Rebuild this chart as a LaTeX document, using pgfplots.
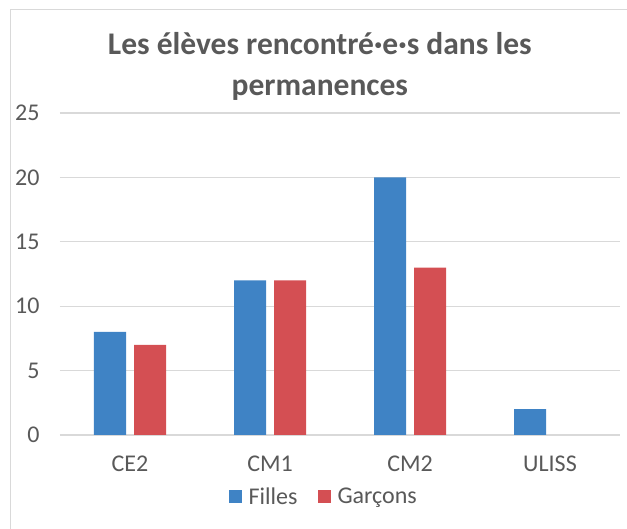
\documentclass[border=0pt]{standalone}
\usepackage{fontspec}
\setmainfont{Carlito}
\usepackage{pgfplots}
\pgfplotsset{compat=1.18}
\definecolor{bblue}{RGB}{63,131,197}
\definecolor{bred}{RGB}{212,79,83}
\definecolor{txt}{RGB}{89,89,89}
\definecolor{gridgray}{RGB}{217,217,217}
\begin{document}
\begin{tikzpicture}[x=1pt,y=1pt]
\useasboundingbox (0,0) rectangle (627,529);
\draw[gridgray, line width=1pt] (10,-5) rectangle (640,519);
\begin{axis}[
  at={(60pt,94pt)}, anchor=south west,
  scale only axis, width=560pt, height=322pt,
  ybar=8pt, bar width=32pt,
  xmin=-0.5, xmax=3.5, ymin=0, ymax=25,
  xtick={0,1,2,3}, xticklabels={CE2,CM1,CM2,ULISS},
  ytick={0,5,10,15,20,25},
  axis line style={draw=none},
  axis x line*=bottom,
  x axis line style={draw=gridgray, line width=1.2pt},
  xmajorgrids=false, ymajorgrids=true,
  y grid style={gridgray, line width=1.2pt},
  major tick length=0pt,
  xtick style={draw=none}, ytick style={draw=none},
  tick label style={font=\fontsize{24}{27}\selectfont, text=txt},
  y tick label style={anchor=east, xshift=-17pt},
  x tick label style={yshift=-17pt},
  /pgf/number format/assume math mode=true,
  legend style={draw=none, at={(0.471,-0.191)}, anchor=center, legend columns=2,
    font=\fontsize{24}{27}\selectfont, text=txt, inner sep=0pt,
    /tikz/every even column/.append style={column sep=18pt}},
  legend image code/.code={\fill[#1] (0pt,-6.5pt) rectangle (13pt,6.5pt); \path (18pt,0pt);},
  title={Les élèves rencontré·e·s dans les\\permanences},
  title style={align=center, font=\fontsize{31.5}{41}\bfseries\selectfont, text=txt, at={(0.464,1.127)}, anchor=center},
]
\addplot[fill=bblue, draw=none] coordinates {(0,8) (1,12) (2,20) (3,2)};
\addplot[fill=bred, draw=none] coordinates {(0,7) (1,12) (2,13)};
\legend{Filles, Garçons}
\end{axis}
\end{tikzpicture}
\end{document}
